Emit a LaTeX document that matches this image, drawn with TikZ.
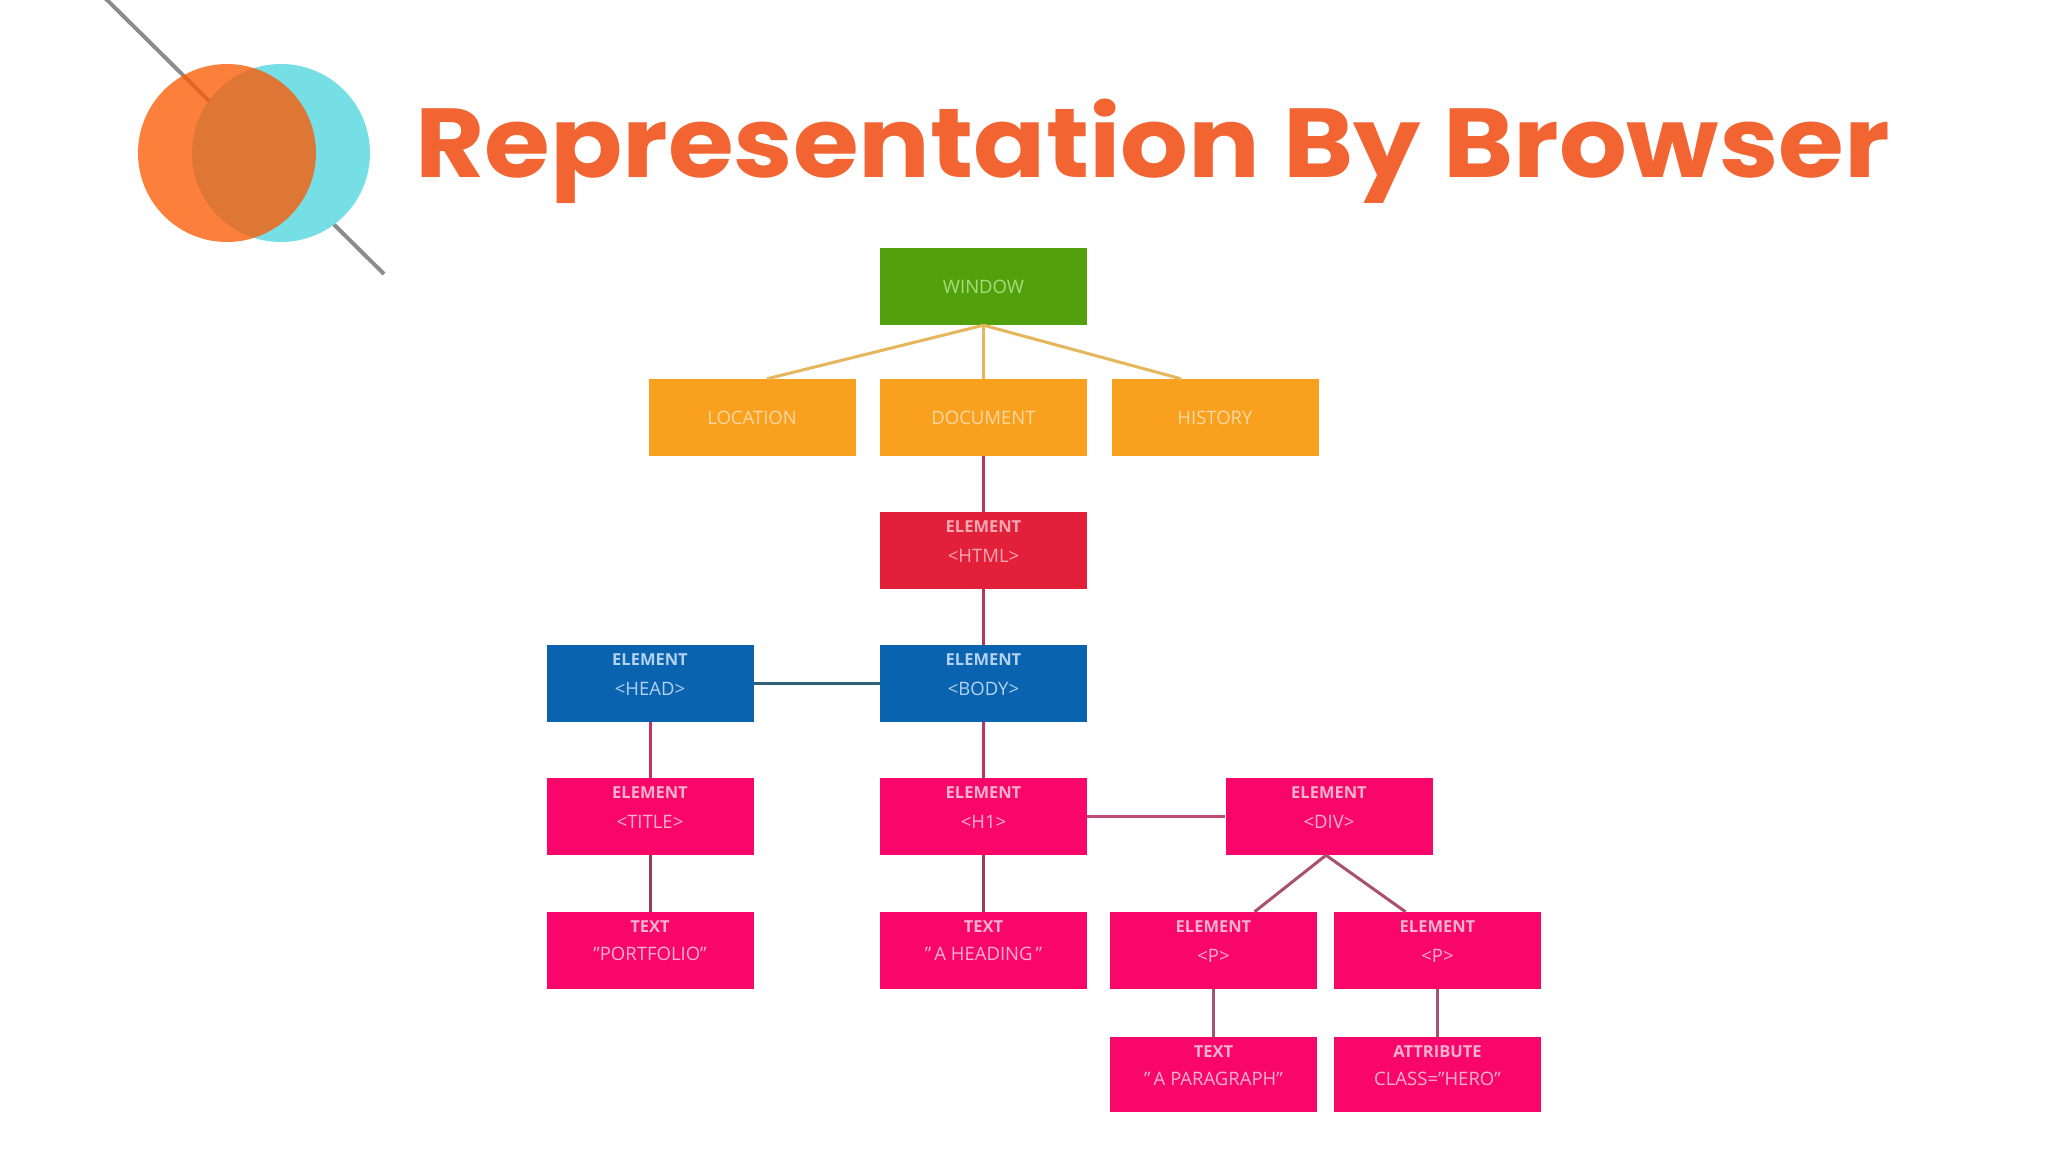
\documentclass[tikz,border=0pt]{standalone}
\usepackage{fontspec}
\setmainfont{Open Sans}
\newfontfamily\titlefont{Poppins}
\usetikzlibrary{calc}
\definecolor{titlec}{HTML}{F26532}
\definecolor{circO}{HTML}{FC5B04}
\definecolor{circC}{HTML}{76DFE6}
\definecolor{lineG}{HTML}{8C8C8C}
\definecolor{boxG}{HTML}{52A00C}
\definecolor{boxO}{HTML}{F9A11E}
\definecolor{boxR}{HTML}{E3203A}
\definecolor{boxB}{HTML}{0A63AF}
\definecolor{boxP}{HTML}{F9066B}
\definecolor{txtG}{HTML}{A8DE7E}
\definecolor{txtO}{HTML}{FCD8A2}
\definecolor{txtR}{HTML}{F8A8B4}
\definecolor{txtB}{HTML}{B4D2F2}
\definecolor{txtP}{HTML}{FAB2CF}
\definecolor{cGold}{HTML}{E5B65A}
\definecolor{cCrim}{HTML}{B8365A}
\definecolor{cTeal}{HTML}{2E6078}
\definecolor{cPink}{HTML}{C23360}
\definecolor{cPink2}{HTML}{C04A78}
\definecolor{cDark}{HTML}{9C3C58}
\definecolor{cMauve}{HTML}{A8506E}
\newcommand{\sq}{\symbol{34}}
\begin{document}
\begin{tikzpicture}[x=1pt,y=-1pt,
  dbox/.style={rectangle, minimum width=207pt, minimum height=77pt, inner sep=0pt},
  labA/.style={font=\bfseries\fontsize{16.5}{16.5}\selectfont, inner sep=0pt},
  labB/.style={font=\fontsize{18.5}{18.5}\selectfont, inner sep=0pt},
  labS/.style={font=\fontsize{18.5}{18.5}\selectfont, inner sep=0pt},
  conn/.style={line width=3pt}]
\useasboundingbox[fill=white] (0,0) rectangle (2048,1152);
% decoration
\begin{scope}
\clip (0,0) rectangle (2048,1152);
\draw[lineG, line width=4pt] (100,-7) -- (384,274);
\end{scope}
\fill[circC] (281,153) circle (89pt);
\fill[circO, opacity=0.78] (227,153) circle (89pt);
% title
\node[anchor=base west, text=titlec, inner sep=0pt,
  font=\titlefont\bfseries\fontsize{98}{98}\selectfont] (title) at (415,177) {\scalebox{1.087}[1]{Representation By Browser}};
% boxes
\node[dbox, fill=boxG] (win) at (983.5,286.5) {};
\node[dbox, fill=boxO] (loc) at (752,417.5) {};
\node[dbox, fill=boxO] (doc) at (983.5,417.5) {};
\node[dbox, fill=boxO] (hist) at (1215,417.5) {};
\node[dbox, fill=boxR] (html) at (983.5,550.5) {};
\node[dbox, fill=boxB] (head) at (650,683.5) {};
\node[dbox, fill=boxB] (body) at (983.5,683.5) {};
\node[dbox, fill=boxP] (title2) at (650,816.5) {};
\node[dbox, fill=boxP] (h1) at (983.5,816.5) {};
\node[dbox, fill=boxP] (div) at (1329,816.5) {};
\node[dbox, fill=boxP] (port) at (650,950.5) {};
\node[dbox, fill=boxP] (head2) at (983.5,950.5) {};
\node[dbox, fill=boxP] (p1) at (1213.5,950.5) {};
\node[dbox, fill=boxP] (p2) at (1437.5,950.5) {};
\node[dbox, fill=boxP, minimum height=75pt] (ptxt) at (1213.5,1074.5) {};
\node[dbox, fill=boxP, minimum height=75pt] (attr) at (1437.5,1074.5) {};
% single labels
\node[labS, text=txtG] (winT) at (win) {WINDOW};
\node[labS, text=txtO] (locT) at (loc) {LOCATION};
\node[labS, text=txtO] (docT) at (doc) {DOCUMENT};
\node[labS, text=txtO] (histT) at (hist) {HISTORY};
% two-line labels
\node[labA, text=txtR] (htmlA) at ($(html.north)+(0,15)$) {ELEMENT};
\node[labB, text=txtR] (htmlB) at ($(html.north)+(0,44)$) {<HTML>};
\node[labA, text=txtB] (headA) at ($(head.north)+(0,15)$) {ELEMENT};
\node[labB, text=txtB] (headB) at ($(head.north)+(0,44)$) {<HEAD>};
\node[labA, text=txtB] (bodyA) at ($(body.north)+(0,15)$) {ELEMENT};
\node[labB, text=txtB] (bodyB) at ($(body.north)+(0,44)$) {<BODY>};
\node[labA, text=txtP] (titA) at ($(title2.north)+(0,15)$) {ELEMENT};
\node[labB, text=txtP] (titB) at ($(title2.north)+(0,44)$) {<TITLE>};
\node[labA, text=txtP] (h1A) at ($(h1.north)+(0,15)$) {ELEMENT};
\node[labB, text=txtP] (h1B) at ($(h1.north)+(0,44)$) {<H1>};
\node[labA, text=txtP] (divA) at ($(div.north)+(0,15)$) {ELEMENT};
\node[labB, text=txtP] (divB) at ($(div.north)+(0,44)$) {<DIV>};
\node[labA, text=txtP] (portA) at ($(port.north)+(0,15)$) {TEXT};
\node[labB, text=txtP] (portB) at ($(port.north)+(0,42)$) {\sq PORTFOLIO\sq};
\node[labA, text=txtP] (hdA) at ($(head2.north)+(0,15)$) {TEXT};
\node[labB, text=txtP] (hdB) at ($(head2.north)+(0,42)$) {\sq\,A HEADING\,\sq};
\node[labA, text=txtP] (p1A) at ($(p1.north)+(0,15)$) {ELEMENT};
\node[labB, text=txtP] (p1B) at ($(p1.north)+(0,44)$) {<P>};
\node[labA, text=txtP] (p2A) at ($(p2.north)+(0,15)$) {ELEMENT};
\node[labB, text=txtP] (p2B) at ($(p2.north)+(0,44)$) {<P>};
\node[labA, text=txtP] (ptA) at ($(ptxt.north)+(0,15)$) {TEXT};
\node[labB, text=txtP] (ptB) at ($(ptxt.north)+(0,42)$) {\sq\,A PARAGRAPH\sq};
\node[labA, text=txtP] (atA) at ($(attr.north)+(0,15)$) {ATTRIBUTE};
\node[labB, text=txtP] (atB) at ($(attr.north)+(0,42)$) {CLASS=\sq HERO\sq};
% connectors
\draw[conn, cGold] (win.south) -- ($(loc.north)+(15,0)$);
\draw[conn, cGold] (win.south) -- (doc.north);
\draw[conn, cGold] (win.south) -- ($(hist.north)+(-34,0)$);
\draw[conn, cCrim] (doc.south) -- (html.north);
\draw[conn, cCrim] (html.south) -- (body.north);
\draw[conn, cTeal] (head.east) -- (body.west);
\draw[conn, cPink] (head.south) -- (title2.north);
\draw[conn, cPink] (body.south) -- (h1.north);
\draw[conn, cPink2] (h1.east) -- (div.west);
\draw[conn, cDark] (title2.south) -- (port.north);
\draw[conn, cDark] (h1.south) -- (head2.north);
\draw[conn, cMauve] ($(div.south)+(-3,0)$) -- ($(p1.north)+(41,0)$);
\draw[conn, cMauve] ($(div.south)+(-3,0)$) -- ($(p2.north)+(-32,0)$);
\draw[conn, cMauve] (p1.south) -- (ptxt.north);
\draw[conn, cMauve] (p2.south) -- (attr.north);
\end{tikzpicture}
\end{document}
